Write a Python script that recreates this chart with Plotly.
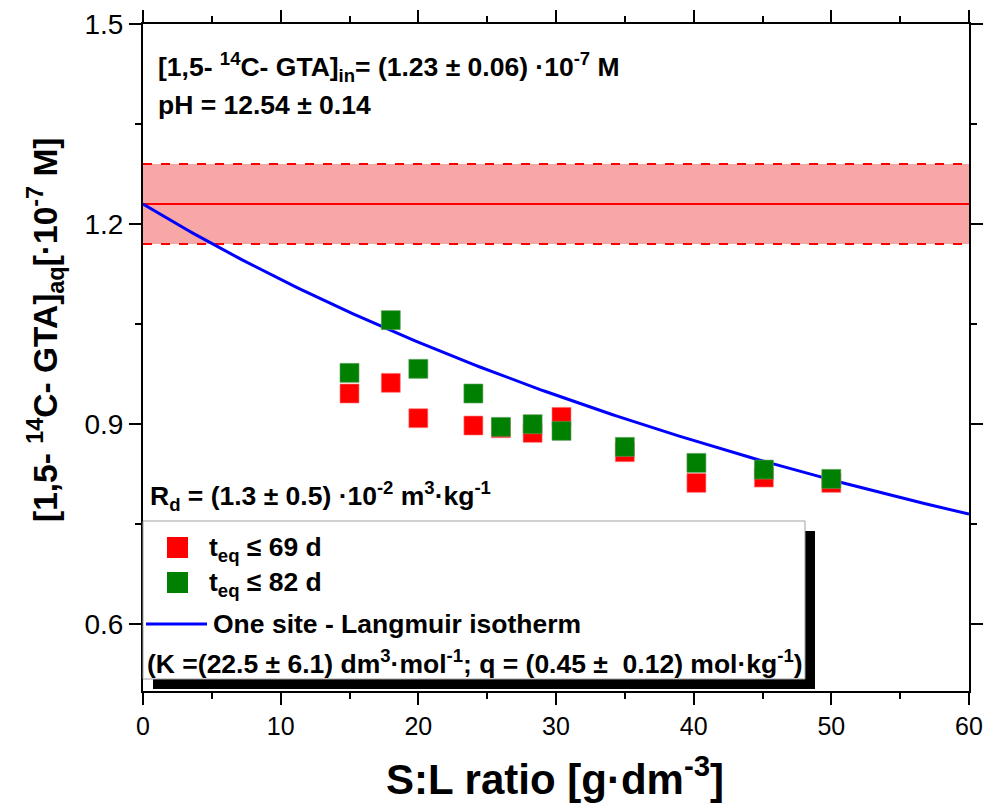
import numpy as np
import plotly.graph_objects as go

# ---- data -------------------------------------------------------------
sl_ratio = [15, 18, 20, 24, 26, 28.3, 30.4, 35, 40.2, 45.1, 50]          # g/dm3
gta_69d = [0.946, 0.962, 0.909, 0.898, 0.894, 0.887, 0.911, 0.858, 0.812, 0.820, 0.812]
gta_82d = [0.977, 1.056, 0.983, 0.946, 0.896, 0.900, 0.890, 0.866, 0.842, 0.832, 0.818]

c_in = 1.23        # initial concentration, 1e-7 M
c_in_err = 0.06
K_langmuir = 22.5  # dm3/mol
q_langmuir = 0.45  # mol/kg
x_range = [0, 60]
y_range = [0.5, 1.5]

# ---- layout geometry (pixels) -----------------------------------------
W, H = 985, 806
L, R, T, B = 143, 16, 24, 115
PW, PH = W - L - R, H - T - B


def px(xp):
    return (xp - L) / PW


def py(yp):
    return (H - B - yp) / PH


FONT = "Liberation Sans, Arial, sans-serif"

fig = go.Figure()

# initial concentration band
band_x = x_range
fig.add_trace(go.Scatter(x=band_x, y=[c_in + c_in_err] * 2, mode="lines",
                         line=dict(color="red", width=2, dash="dash"), hoverinfo="skip"))
fig.add_trace(go.Scatter(x=band_x, y=[c_in - c_in_err] * 2, mode="lines",
                         line=dict(color="red", width=2, dash="dash"),
                         fill="tonexty", fillcolor="rgba(240,60,60,0.45)", hoverinfo="skip"))
fig.add_trace(go.Scatter(x=band_x, y=[c_in] * 2, mode="lines",
                         line=dict(color="red", width=2), hoverinfo="skip"))

# one-site Langmuir isotherm (linear regime, Rd = q*K)
xs = np.linspace(x_range[0], x_range[1], 200)
rd = q_langmuir * K_langmuir / 1000.0   # dm3/g
fig.add_trace(go.Scatter(x=xs, y=c_in / (1 + rd * xs), mode="lines",
                         line=dict(color="#0000ff", width=3), hoverinfo="skip"))

# measured points
fig.add_trace(go.Scatter(x=sl_ratio, y=gta_69d, mode="markers",
                         marker=dict(symbol="square", size=19, color="#ff0000",
                                     line=dict(width=0.6, color="#ff8080"))))
fig.add_trace(go.Scatter(x=sl_ratio, y=gta_82d, mode="markers",
                         marker=dict(symbol="square", size=19, color="#008000",
                                     line=dict(width=0.6, color="#60a060"))))

shapes = [
    # legend shadow + box
    dict(type="rect", xref="paper", yref="paper", x0=px(153), x1=px(815), y0=py(689), y1=py(531),
         fillcolor="black", line=dict(width=0), layer="above"),
    dict(type="rect", xref="paper", yref="paper", x0=px(143), x1=px(805), y0=py(679), y1=py(521),
         fillcolor="white", line=dict(width=1, color="#a0a0a0"), layer="above"),
    # legend symbols
    dict(type="rect", xref="paper", yref="paper", x0=px(167), x1=px(188), y0=py(558), y1=py(537),
         fillcolor="#ff0000", line=dict(width=0), layer="above"),
    dict(type="rect", xref="paper", yref="paper", x0=px(167), x1=px(188), y0=py(593), y1=py(572),
         fillcolor="#008000", line=dict(width=0), layer="above"),
    dict(type="line", xref="paper", yref="paper", x0=px(146), x1=px(207), y0=py(624), y1=py(624),
         line=dict(width=3, color="#0000ff"), layer="above"),
]

NOTE_SIZE = 26.5
bold = dict(family=FONT, size=NOTE_SIZE, color="black", weight="bold")


def note(text, xp, yp, size=NOTE_SIZE):
    return dict(text=text, xref="paper", yref="paper", x=px(xp), y=py(yp),
                xanchor="left", yanchor="middle", showarrow=False,
                font=dict(bold, size=size))


annotations = [
    note("[1,5- <sup>14</sup>C- GTA]<sub>in</sub>= (1.23 ± 0.06) ·10<sup>-7</sup> M", 156, 67),
    note("pH = 12.54 ± 0.14", 156, 105),
    note("R<sub>d</sub> = (1.3 ± 0.5) ·10<sup>-2</sup> m<sup>3</sup>·kg<sup>-1</sup>", 148, 496),
    note("t<sub>eq</sub> ≤ 69 d", 207, 549),
    note("t<sub>eq</sub> ≤ 82 d", 207, 584),
    note("One site - Langmuir isotherm", 211, 624),
    note("(K =(22.5 ± 6.1) dm<sup>3</sup>·mol<sup>-1</sup>; q = (0.45 ±  0.12) mol·kg<sup>-1</sup>)", 145, 662),
    dict(text="[1,5- <sup>14</sup>C- GTA]<sub>aq</sub>[·10<sup>-7</sup> M]",
         xref="paper", yref="paper", x=px(45), y=py(330), textangle=-90,
         xanchor="center", yanchor="middle", showarrow=False,
         font=dict(family=FONT, size=33.5, color="black", weight="bold")),
    dict(text="S:L ratio [g·dm<sup>-3</sup>]",
         xref="paper", yref="paper", x=px(555), y=py(776),
         xanchor="center", yanchor="middle", showarrow=False,
         font=dict(family=FONT, size=42, color="black", weight="bold")),
]

axis_common = dict(showline=True, linecolor="black", linewidth=2, mirror="allticks",
                   ticks="outside", ticklen=12, tickwidth=2, tickcolor="black",
                   showgrid=False, zeroline=False, automargin=False)

fig.update_layout(
    width=W, height=H,
    margin=dict(l=L, r=R, t=T, b=B, autoexpand=False),
    paper_bgcolor="white", plot_bgcolor="white",
    showlegend=False,
    xaxis=dict(axis_common, range=x_range, tick0=0, dtick=10,
               tickfont=dict(family=FONT, size=25, color="black"),
               minor=dict(ticks="outside", ticklen=6, tickwidth=2, tickcolor="black", dtick=5)),
    yaxis=dict(axis_common, range=y_range, tick0=0.6, dtick=0.3, tickformat=".1f",
               tickfont=dict(family=FONT, size=28, color="black"),
               minor=dict(ticks="outside", ticklen=6, tickwidth=2, tickcolor="black", dtick=0.15, tick0=0.6)),
    shapes=shapes,
    annotations=annotations,
)

fig.write_html("out.html")
